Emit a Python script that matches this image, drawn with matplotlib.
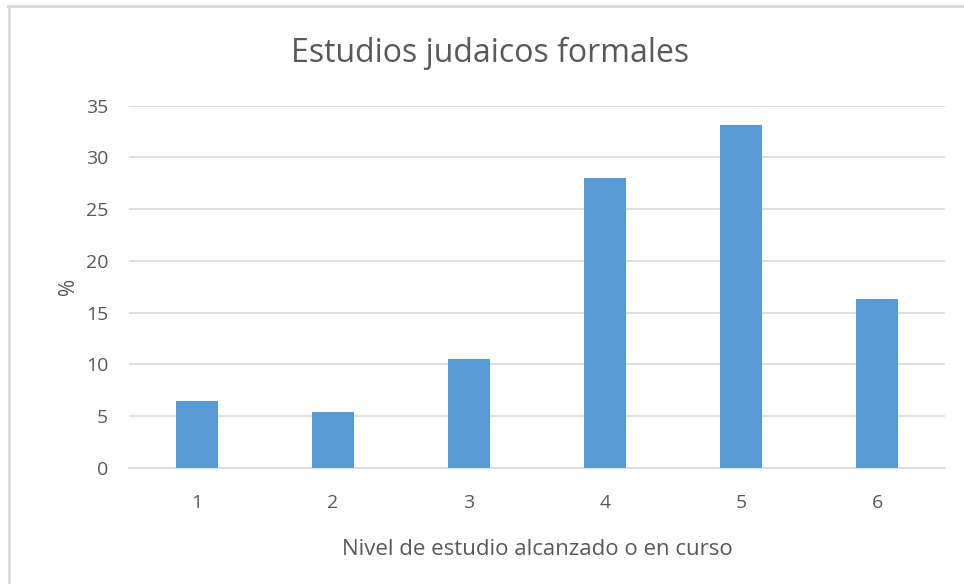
import matplotlib.pyplot as plt
from matplotlib.lines import Line2D

# survey data: share of respondents per level of formal Jewish studies
niveles = ["1", "2", "3", "4", "5", "6"]
porcentajes = [6.45, 5.45, 10.5, 28.0, 33.1, 16.35]

BAR_COLOR = "#5b9bd5"
GRID_COLOR = "#d9d9d9"
TEXT_COLOR = "#595959"

plt.rcParams["font.family"] = ["Open Sans", "DejaVu Sans"]

fig = plt.figure(figsize=(9.64, 5.84), dpi=100)
ax = fig.add_axes([0.1338, 0.1986, 0.8465, 0.6204])

x = range(len(niveles))
ax.bar(x, porcentajes, width=0.31, color=BAR_COLOR, zorder=3)

ax.set_xlim(-0.5, len(niveles) - 0.5)
ax.set_ylim(0, 35)
ax.set_yticks(range(0, 36, 5))
ax.set_xticks(list(x))
ax.set_xticklabels(niveles)

ax.grid(axis="y", color=GRID_COLOR, linewidth=1.2, zorder=0)
for s in ["top", "right", "left"]:
    ax.spines[s].set_visible(False)
ax.spines["bottom"].set_color(GRID_COLOR)
ax.spines["bottom"].set_linewidth(1.2)
ax.tick_params(axis="both", length=0, labelsize=14, colors=TEXT_COLOR)
ax.tick_params(axis="y", pad=15)
ax.tick_params(axis="x", pad=19)

ax.set_xlabel("Nivel de estudio alcanzado o en curso", fontsize=16, color=TEXT_COLOR, labelpad=19)
ax.set_ylabel("%", fontsize=15, color=TEXT_COLOR, labelpad=5)
fig.text(0.508, 0.908, "Estudios judaicos formales", ha="center", va="center",
         fontsize=23, color=TEXT_COLOR)

# chart frame, only the top and left edges are in view
fig.add_artist(Line2D([0.0085, 1.0], [0.9905, 0.9905], color=GRID_COLOR, linewidth=2))
fig.add_artist(Line2D([0.0092, 0.0092], [0.0, 0.9905], color=GRID_COLOR, linewidth=2))

fig.savefig("out.png", dpi=100, facecolor="white")
